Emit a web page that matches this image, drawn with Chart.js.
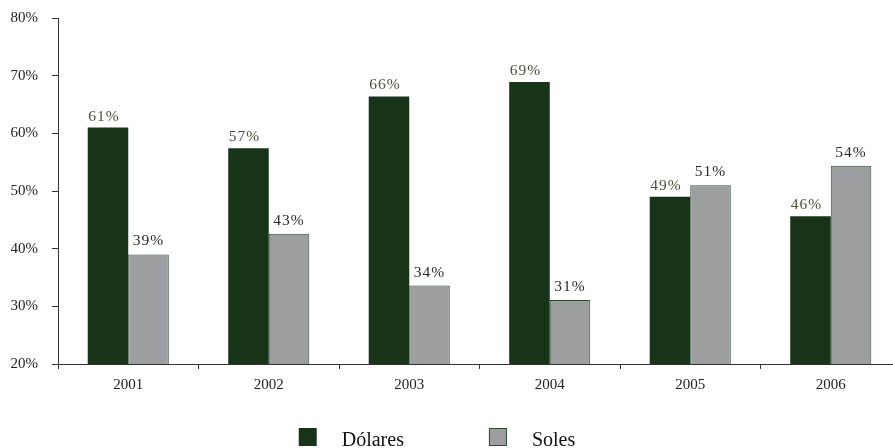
<!DOCTYPE html>
<html>
<head>
<meta charset="utf-8">
<script src="https://cdn.jsdelivr.net/npm/chart.js@4.4.1/dist/chart.umd.min.js"></script>
<style>
  html, body { margin: 0; padding: 0; background: #fff; overflow: hidden; }
  #wrap { position: relative; width: 910px; height: 448px; }
</style>
</head>
<body>
<div id="wrap"><canvas id="chart"></canvas></div>
<script>
// Share of deposits by currency, per year (percent)
const categories = ['2001', '2002', '2003', '2004', '2005', '2006'];
const dolares = [61.0, 57.4, 66.4, 68.9, 49.0, 45.6];
const soles   = [39.0, 42.6, 33.6, 31.1, 51.0, 54.4];
const seriesNames = ['Dólares', 'Soles'];
const yTicks = [20, 30, 40, 50, 60, 70, 80];

const FONT = '"Liberation Serif", "DejaVu Serif", serif';

// Value labels above each bar
const valueLabels = {
  id: 'valueLabels',
  afterDatasetsDraw(chart, args, opts) {
    const ctx = chart.ctx;
    ctx.save();
    ctx.font = '15.5px ' + FONT;
    ctx.letterSpacing = '1px';
    ctx.textAlign = 'center';
    ctx.textBaseline = 'alphabetic';
    chart.data.datasets.forEach((ds, di) => {
      const meta = chart.getDatasetMeta(di);
      const st = opts.styles[di];
      ctx.fillStyle = st.color;
      meta.data.forEach((el, i) => {
        const txt = Math.round(ds.data[i]) + '%';
        ctx.fillText(txt, el.x + st.dx, el.y - st.dy);
      });
    });
    ctx.restore();
  }
};

// Legend drawn below the axis
const bottomLegend = {
  id: 'bottomLegend',
  afterDraw(chart, args, opts) {
    const ctx = chart.ctx;
    ctx.save();
    ctx.font = '20px ' + FONT;
    ctx.textBaseline = 'alphabetic';
    ctx.textAlign = 'left';
    const items = chart.data.datasets.map(ds => ({
      label: ds.label, fill: ds.backgroundColor, stroke: ds.borderColor,
      w: ctx.measureText(ds.label).width
    }));
    const total = items.reduce((s, it) => s + opts.box + opts.gap + it.w, 0) + opts.itemGap * (items.length - 1);
    let x = opts.centerX - total / 2;
    items.forEach(it => {
      ctx.fillStyle = it.fill;
      ctx.fillRect(x, opts.boxTop, opts.box, opts.box);
      if (it.stroke !== it.fill) {
        ctx.strokeStyle = it.stroke;
        ctx.lineWidth = 1;
        ctx.strokeRect(x + 0.5, opts.boxTop + 0.5, opts.box - 1, opts.box - 1);
      }
      ctx.fillStyle = '#111';
      ctx.fillText(it.label, x + opts.box + opts.gap, opts.baseline);
      x += opts.box + opts.gap + it.w + opts.itemGap;
    });
    ctx.restore();
  }
};

new Chart(document.getElementById('chart'), {
  type: 'bar',
  data: {
    labels: categories,
    datasets: [
      { label: seriesNames[0], data: dolares, backgroundColor: '#173418', borderColor: '#173418', borderWidth: 0 },
      { label: seriesNames[1], data: soles, backgroundColor: '#9d9ea0', borderColor: '#2f4a2f', borderWidth: 1 }
    ]
  },
  options: {
    responsive: true,
    maintainAspectRatio: false,
    animation: false,
    events: [],
    layout: { padding: { top: 18, right: 9, bottom: 49, left: 0 } },
    datasets: { bar: { categoryPercentage: 0.577, barPercentage: 1.0 } },
    plugins: {
      legend: { display: false },
      tooltip: { enabled: false },
      valueLabels: {
        styles: [
          { color: '#4f4f3a', dx: -4, dy: 7 },
          { color: '#2a2a2a', dx: 0, dy: 9 }
        ]
      },
      bottomLegend: { centerX: 437, boxTop: 428, box: 18, gap: 25, itemGap: 85, baseline: 446 }
    },
    scales: {
      x: {
        offset: true,
        grid: { offset: true, drawOnChartArea: false, drawTicks: true, tickLength: 5, color: '#333', tickColor: '#333' },
        border: { display: true, color: '#333', width: 1 },
        ticks: { color: '#222', font: { family: FONT, size: 15 }, padding: 7, maxRotation: 0 },
        afterFit(scale) { scale.height = 35; scale.paddingLeft = 0; scale.paddingRight = 0; }
      },
      y: {
        min: 20, max: 80,
        afterBuildTicks(scale) { scale.ticks = yTicks.map(v => ({ value: v })); },
        grid: { drawOnChartArea: false, drawTicks: true, tickLength: 6, color: '#333', tickColor: '#333' },
        border: { display: true, color: '#333', width: 1 },
        ticks: { color: '#222', font: { family: FONT, size: 15 }, padding: 14, callback: v => v + '%' },
        afterFit(scale) { scale.width = 58; scale.paddingTop = 0; scale.paddingBottom = 0; }
      }
    }
  },
  plugins: [valueLabels, bottomLegend]
});
</script>
</body>
</html>
